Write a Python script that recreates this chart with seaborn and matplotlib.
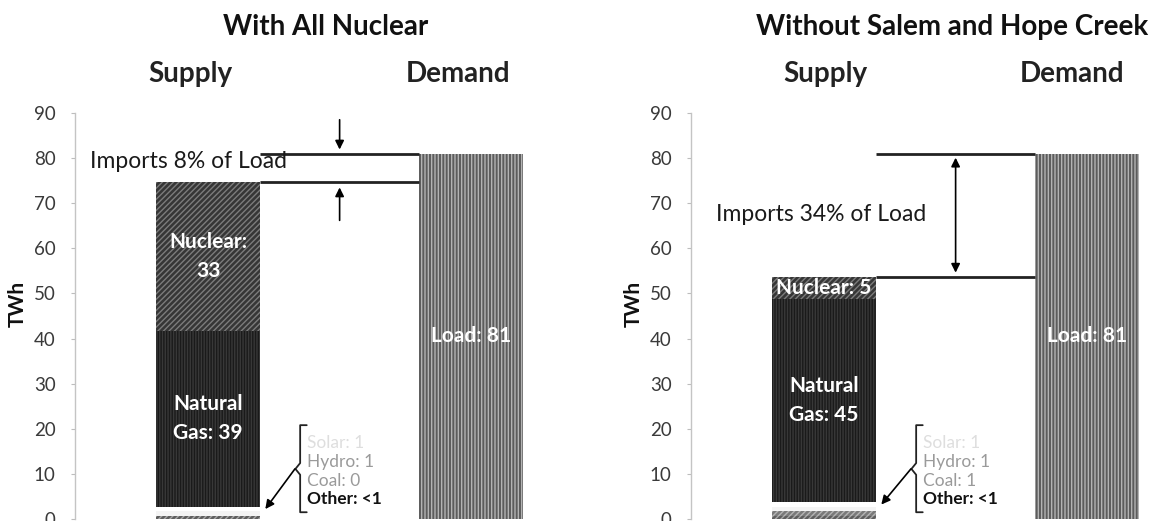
import matplotlib
matplotlib.use("Agg")
import matplotlib.pyplot as plt
import seaborn as sns
import numpy as np

# ---------------- data ----------------
panel_titles = ["With All Nuclear", "Without Salem and Hope Creek"]
categories = ["Supply", "Demand"]
sources = ["Other", "Coal", "Hydro", "Solar", "Natural Gas", "Nuclear"]  # bottom -> top
supply_all_nuclear = [0.7, 0.0, 1.0, 1.0, 39.0, 33.0]
supply_without_salem = [0.7, 1.0, 1.0, 1.0, 45.0, 5.0]
load_values = [81.0, 81.0]
y_ticks = [0, 10, 20, 30, 40, 50, 60, 70, 80, 90]
import_labels = ["Imports 8% of Load", "Imports 34% of Load"]
nuclear_labels = ["Nuclear:\n33", "Nuclear: 5"]
gas_labels = ["Natural\nGas: 39", "Natural\nGas: 45"]
load_labels = ["Load: 81", "Load: 81"]
minor_labels = [["Solar: 1", "Hydro: 1", "Coal: 0", "Other: <1"],
                ["Solar: 1", "Hydro: 1", "Coal: 1", "Other: <1"]]

# ---------------- styles ----------------
sns.set_theme(style="white")
plt.rcParams["font.family"] = ["Lato", "DejaVu Sans"]
plt.rcParams["hatch.linewidth"] = 1.0

seg_style = {
    "Nuclear": dict(color="#363636", hatch="//////", edgecolor="#7c7c7c"),
    "Natural Gas": dict(color="#1a1a1a", hatch="||||||", edgecolor="#383838"),
    "Solar": dict(color="#ffffff", hatch=None, edgecolor="#ffffff"),
    "Hydro": dict(color="#f4f4f4", hatch=None, edgecolor="#f4f4f4"),
    "Coal": dict(color="#7a7a7a", hatch="//////", edgecolor="#b5b5b5"),
    "Other": dict(color="#5e5e5e", hatch="//////", edgecolor="#a8a8a8"),
}
demand_style = dict(color="#5c5c5c", hatch="|||||", edgecolor="#b4b4b4")
minor_colors = ["#dedede", "#9a9a9a", "#9a9a9a", "#111111"]

W, H = 1159, 521
fig = plt.figure(figsize=(W / 100, H / 100), dpi=100)

bar_w = 0.395
ax_left_px = [75, 691]
ax_w_px = 454
y0_px, y90_px = 519, 113

supplies = [supply_all_nuclear, supply_without_salem]
title_x_px = [326, 952]
supply_x_px = [190, 825]
demand_x_px = [458, 1072]
import_text_pos = [(-0.45, 79.3), (-0.41, 67.5)]

for p in range(2):
    ax = fig.add_axes([ax_left_px[p] / W, (H - y0_px) / H, ax_w_px / W, (y0_px - y90_px) / H])
    vals = np.array(supplies[p])
    cum = np.cumsum(vals)
    # stacked supply bar: draw cumulative totals from top segment down
    for i in reversed(range(len(sources))):
        st = seg_style[sources[i]]
        sns.barplot(x=["Supply"], y=[cum[i]], order=categories, ax=ax,
                    color=st["color"], hatch=st["hatch"], edgecolor=st["edgecolor"],
                    linewidth=0, width=bar_w, saturation=1, errorbar=None)
    # demand bar
    sns.barplot(x=["Demand"], y=[load_values[p]], order=categories, ax=ax,
                color=demand_style["color"], hatch=demand_style["hatch"],
                edgecolor=demand_style["edgecolor"], linewidth=0, width=bar_w,
                saturation=1, errorbar=None)

    ax.set_xlim(-0.506, 1.22)
    ax.set_ylim(0, 90)
    ax.set_yticks(y_ticks)
    ax.set_yticklabels([str(t) for t in y_ticks], fontsize=13.5, color="#3a3a3a")
    ax.set_xticks([])
    ax.set_xlabel("")
    ax.set_ylabel("TWh", fontsize=15, fontweight="bold", color="#111111")
    ax.yaxis.set_label_coords(-0.103, 0.53)
    ax.tick_params(axis="y", length=3, width=0.8, color="#bdbdbd", pad=11, left=True)
    for s in ["top", "right", "bottom"]:
        ax.spines[s].set_visible(False)
    ax.spines["left"].set_color("#c4c4c4")
    ax.spines["left"].set_linewidth(1)

    total = cum[-1]
    load = load_values[p]
    x_a, x_b = 0 + bar_w / 2, 1 - bar_w / 2
    # import level lines
    ax.plot([x_a, x_b], [load, load], color="#222222", lw=2, solid_capstyle="butt")
    ax.plot([x_a, x_b], [total, total], color="#222222", lw=2, solid_capstyle="butt")
    arr = dict(color="black", lw=1.2, mutation_scale=13, shrinkA=0, shrinkB=0)
    if p == 0:
        ax.annotate("", xy=(0.5, load + 0.9), xytext=(0.5, load + 7.5),
                    arrowprops=dict(arrowstyle="-|>", **arr))
        ax.annotate("", xy=(0.5, total - 1.2), xytext=(0.5, total - 8.5),
                    arrowprops=dict(arrowstyle="-|>", **arr))
    else:
        ax.annotate("", xy=(0.5, load - 0.9), xytext=(0.5, total + 0.9),
                    arrowprops=dict(arrowstyle="<|-|>", **arr))
    tx, ty = import_text_pos[p]
    ax.text(tx, ty, import_labels[p], ha="left", va="center", fontsize=16.5, color="#1a1a1a")

    # segment labels
    gas_lo = cum[3]
    gas_hi = cum[4]
    ax.text(0, (gas_lo + gas_hi) / 2, gas_labels[p], ha="center", va="center",
            fontsize=15, fontweight="bold", color="white", linespacing=1.55)
    ax.text(0, (gas_hi + total) / 2, nuclear_labels[p], ha="center", va="center",
            fontsize=15, fontweight="bold", color="white", linespacing=1.55)
    ax.text(1, load / 2, load_labels[p], ha="center", va="center",
            fontsize=15, fontweight="bold", color="white")

    # bracket for small sources
    xb, top, bot, mid = 0.35, 20.8, 1.5, 11.1
    ax.plot([xb + 0.025, xb, xb, xb - 0.018, xb, xb, xb + 0.025],
            [top, top, mid + 1.3, mid, mid - 1.3, bot, bot],
            color="#222222", lw=1.3)
    ax.annotate("", xy=(x_a + 0.02, cum[3] - 0.5), xytext=(xb - 0.02, mid),
                arrowprops=dict(arrowstyle="-|>", **arr))
    for k, (lab, yy) in enumerate(zip(minor_labels[p], [16.9, 12.6, 8.4, 4.5])):
        ax.text(0.376, yy, lab, ha="left", va="center", fontsize=12.5,
                color=minor_colors[k], fontweight="bold" if k == 3 else "normal")

    fig.text(title_x_px[p] / W, 1 - 27 / H, panel_titles[p], ha="center", va="center",
             fontsize=20, fontweight="bold", color="#111111")
    fig.text(supply_x_px[p] / W, 1 - 74 / H, "Supply", ha="center", va="center",
             fontsize=20, fontweight="bold", color="#222222")
    fig.text(demand_x_px[p] / W, 1 - 74 / H, "Demand", ha="center", va="center",
             fontsize=20, fontweight="bold", color="#222222")

fig.savefig("out.png", dpi=100)
